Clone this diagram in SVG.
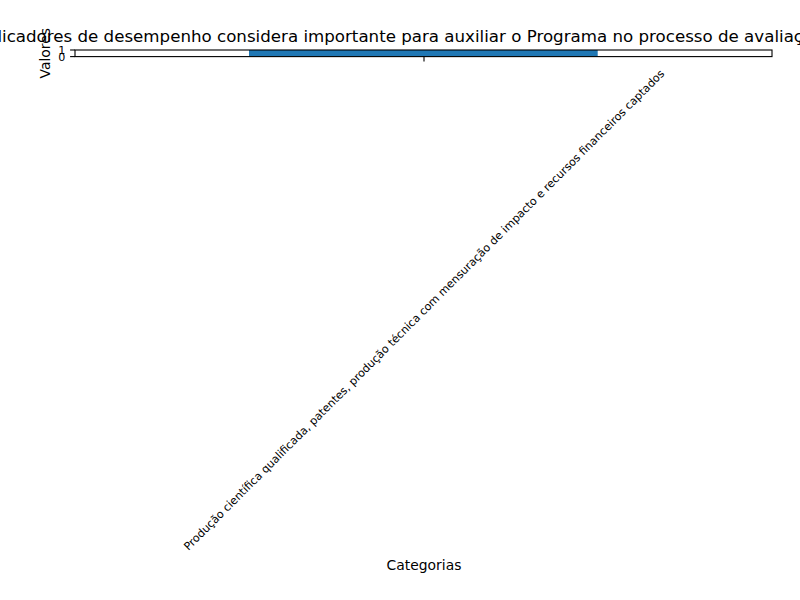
<svg xmlns="http://www.w3.org/2000/svg" width="800" height="600" viewBox="0 0 800 600">
  <style>
    text { font-family: "DejaVu Sans", "Liberation Sans", sans-serif; fill: #000; }
    .title { font-size: 16.67px; }
    .label { font-size: 13.89px; }
    .tick { font-size: 11.11px; }
    .tickline { stroke: #000; stroke-width: 1.11; fill: none; }
  </style>
  <rect x="0" y="0" width="800" height="600" fill="#ffffff"/>
  <g id="title">
    <text class="title" x="-76.2" y="41.7" text-anchor="start">Quais indicadores de desempenho considera importante para auxiliar o Programa no processo de avaliação?</text>
  </g>
  <g id="axes">
    <rect id="bar" x="249" y="50" width="348.7" height="6.6" fill="#1f77b4"/>
    <rect id="frame" x="75" y="50" width="697" height="6.6" fill="none" stroke="#000" stroke-width="1.11"/>
    <g id="yticks">
      <line class="tickline" x1="75" y1="50" x2="70.1" y2="50"/>
      <line class="tickline" x1="75" y1="56.6" x2="70.1" y2="56.6"/>
      <text class="tick" x="65.3" y="50" dy="3.9" text-anchor="end">1</text>
      <text class="tick" x="65.3" y="56.6" dy="3.9" text-anchor="end">0</text>
    </g>
    <g id="xticks">
      <line class="tickline" x1="424" y1="56.6" x2="424" y2="61.5"/>
      <text class="tick" x="0" y="0" dy="3.85" text-anchor="middle" transform="translate(424,310) rotate(-45)">Produção científica qualificada, patentes, produção técnica com mensuração de impacto e recursos financeiros captados</text>
    </g>
  </g>
  <g id="labels">
    <text class="label" x="0" y="0" text-anchor="middle" transform="translate(49.5,53.3) rotate(-90)">Valores</text>
    <text class="label" x="424" y="569.5" text-anchor="middle">Categorias</text>
  </g>
</svg>
